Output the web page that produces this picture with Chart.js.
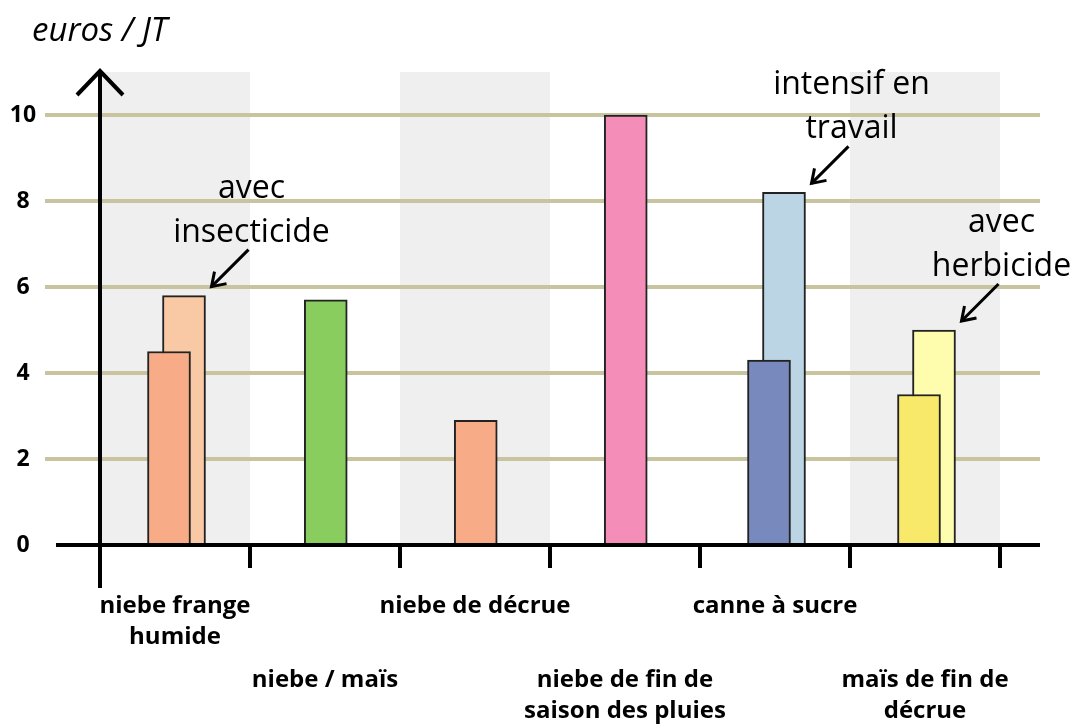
<!DOCTYPE html>
<html>
<head>
<meta charset="utf-8">
<script src="https://cdn.jsdelivr.net/npm/chart.js@4.4.1/dist/chart.umd.min.js"></script>
<style>
  html, body { margin: 0; padding: 0; background: #fff; }
  #wrap { width: 1076px; height: 724px; position: relative; }
</style>
</head>
<body>
<div id="wrap"><canvas id="c"></canvas></div>
<script>
// data
const categories = [
  ['niebe frange', 'humide'],
  ['niebe / maïs'],
  ['niebe de décrue'],
  ['niebe de fin de', 'saison des pluies'],
  ['canne à sucre'],
  ['maïs de fin de', 'décrue'],
]
const mainValues    = [4.5, 5.7, 2.9, 10, 4.3, 3.5]
const variantValues = [5.8, null, null, null, 8.2, 5.0]
const variantNotes  = [['avec', 'insecticide'], null, null, null, ['intensif en', 'travail'], ['avec', 'herbicide']]
const yTicks = [0, 2, 4, 6, 8, 10]
const yUnit = 'euros / JT'

// styles
const mainColors    = ['#f8ab87', '#88cd5e', '#f8ab87', '#f48db8', '#7889bd', '#f8e96a']
const variantColors = ['#f9c8a4', null, null, null, '#bcd5e5', '#fefdad']
const shadedCategories = [0, 2, 5]
const FONT = '"Open Sans"'
const GRID_COLOR = '#c9c4a0'
const BAND_COLOR = '#efefef'

const hasPair = i => variantValues[i] != null
const mainData    = mainValues.map((v, i) => ({ x: i + 0.5 + (hasPair(i) ? -0.04 : 0.005), y: v }))
const variantData = variantValues.map((v, i) => ({ x: i + 0.56, y: v }))

function line(ctx, x1, y1, x2, y2) {
  ctx.beginPath(); ctx.moveTo(x1, y1); ctx.lineTo(x2, y2); ctx.stroke()
}

const decor = {
  id: 'decor',
  beforeDatasetsDraw(chart) {
    const { ctx, chartArea: ca, scales: { x, y } } = chart
    ctx.save()
    ctx.fillStyle = BAND_COLOR
    shadedCategories.forEach(i => {
      const l = x.getPixelForValue(i), r = x.getPixelForValue(i + 1)
      ctx.fillRect(l, ca.top, r - l, y.getPixelForValue(0) - ca.top)
    })
    ctx.strokeStyle = GRID_COLOR
    ctx.lineWidth = 4
    yTicks.filter(v => v > 0).forEach(v => {
      const py = y.getPixelForValue(v)
      line(ctx, 45, py, ca.right, py)
    })
    ctx.restore()
  },
  afterDatasetsDraw(chart) {
    const { ctx, chartArea: ca, scales: { x, y } } = chart
    const x0 = x.getPixelForValue(0), y0 = y.getPixelForValue(0)
    ctx.save()
    ctx.strokeStyle = '#000'
    ctx.fillStyle = '#000'
    ctx.lineWidth = 4
    // x axis + ticks
    line(ctx, 56, y0, ca.right, y0)
    for (let i = 1; i <= categories.length; i++) {
      const px = x.getPixelForValue(i)
      line(ctx, px, y0, px, y0 + 23)
    }
    // y axis with arrow
    line(ctx, x0, y0 + 43, x0, ca.top - 2)
    ctx.beginPath()
    ctx.moveTo(x0 - 23, ca.top + 23); ctx.lineTo(x0, ca.top - 1); ctx.lineTo(x0 + 23, ca.top + 23)
    ctx.stroke()

    // y tick labels
    ctx.textAlign = 'center'
    ctx.textBaseline = 'middle'
    ctx.font = `bold 23px ${FONT}`
    yTicks.forEach(v => ctx.fillText(String(v), x0 - 77, y.getPixelForValue(v)))

    // category labels
    ctx.textBaseline = 'alphabetic'
    ctx.font = `bold 24px ${FONT}`
    const rowTop = [613, 687]
    categories.forEach((lines, i) => {
      const cx = x.getPixelForValue(i + 0.5)
      lines.forEach((t, k) => ctx.fillText(t, cx, rowTop[i % 2] + k * 31))
    })

    // annotations
    const meta = chart.getDatasetMeta(1)
    ctx.font = `32px ${FONT}`
    ctx.lineWidth = 3
    variantNotes.forEach((note, i) => {
      if (!note) return
      const el = meta.data[i]
      const tipX = el.x + el.width / 2 + 6, tipY = el.y - 9
      const tailX = tipX + 37, tailY = tipY - 37
      line(ctx, tailX, tailY, tipX, tipY)
      ctx.beginPath()
      ctx.moveTo(tipX + 15, tipY - 3); ctx.lineTo(tipX, tipY); ctx.lineTo(tipX + 3, tipY - 15)
      ctx.stroke()
      note.forEach((t, k) => ctx.fillText(t, tailX + 3, tailY - 8 - (note.length - 1 - k) * 44))
    })

    // unit title
    ctx.textAlign = 'left'
    ctx.font = `italic 33px ${FONT}`
    ctx.fillText(yUnit, 32, 41)
    ctx.restore()
  },
}

const xCommon = { type: 'linear', min: 0, max: 6.2667, display: false, offset: false }
const barStyle = {
  borderColor: '#222', borderWidth: 2, grouped: false,
  maxBarThickness: 43, barPercentage: 1, categoryPercentage: 1,
}

new Chart(document.getElementById('c'), {
  type: 'bar',
  data: {
    datasets: [
      { data: mainData, xAxisID: 'x', backgroundColor: mainColors, ...barStyle },
      { data: variantData, xAxisID: 'x2', backgroundColor: variantColors, ...barStyle },
    ],
  },
  options: {
    responsive: true,
    maintainAspectRatio: false,
    animation: false,
    layout: { padding: { top: 72, right: 36, bottom: 179, left: 100 } },
    plugins: { legend: { display: false }, tooltip: { enabled: false } },
    scales: {
      x: xCommon,
      x2: { ...xCommon },
      y: { min: 0, max: 11, display: false },
    },
  },
  plugins: [decor],
})
</script>
</body>
</html>
